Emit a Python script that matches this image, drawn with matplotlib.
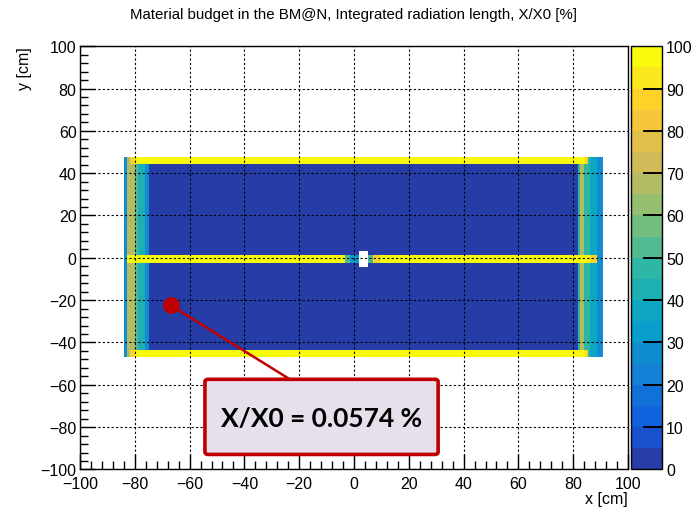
import numpy as np
import matplotlib.pyplot as plt
from matplotlib.colors import ListedColormap, BoundaryNorm
from matplotlib.ticker import MultipleLocator
from matplotlib.patches import FancyBboxPatch

plt.rcParams['font.family'] = ['Liberation Sans', 'DejaVu Sans']

# ROOT kBird palette stops
bird_r = [0.2082, 0.0592, 0.0780, 0.0232, 0.1802, 0.5301, 0.8186, 0.9956, 0.9764]
bird_g = [0.1664, 0.3599, 0.5041, 0.6419, 0.7178, 0.7492, 0.7328, 0.7862, 0.9832]
bird_b = [0.5293, 0.8684, 0.8385, 0.7914, 0.6425, 0.4662, 0.3499, 0.1968, 0.0539]

# Material map, X/X0 in %
# column profile over the full detector height
col_edges = [-84.0, -82.7, -79.9, -78.8, -76.3, -74.7, 81.8, 82.5, 84.0, 86.0, 88.7, 91.0]
col_vals = [28, 68, 52, 42, 25, 2, 45, 68, 48, 38, 25]
det_y = (-47.0, 47.0)
# top and bottom frame bands
band_edges = [-81.8, -80.0, 84.3, 85.4]
band_vals = [85, 99, 85]
band_top = (44.0, 47.0)
band_bot = (-47.0, -44.0)
# central horizontal strip
strip_edges = [-83.0, -3.3, -1.5, 1.8, 5.1, 6.9, 9.5, 86.0, 88.7]
strip_vals = [99, 50, 30, 99, 50, 85, 99, 85]
strip_y = (-3.0, 0.9)
# beam hole (empty)
hole_x = (1.8, 5.1)
hole_y = (-4.6, 2.7)

cbar_ticks = np.arange(0, 101, 10)
mean_value = "X/X0 = 0.0574 %"
title = "Material budget in the BM@N, Integrated radiation length, X/X0 [%]"

# histogram grid
step = 0.25
xc = np.arange(-100 + step / 2, 100, step)
yc = np.arange(-100 + step / 2, 100, step)
X, Y = np.meshgrid(xc, yc)
Z = np.full(X.shape, np.nan)


def fill(edges, vals, y0, y1):
    for i, v in enumerate(vals):
        m = (X >= edges[i]) & (X < edges[i + 1]) & (Y >= y0) & (Y < y1)
        Z[m] = v


fill(col_edges, col_vals, *det_y)
fill(band_edges, band_vals, *band_top)
fill(band_edges, band_vals, *band_bot)
fill(strip_edges, strip_vals, *strip_y)
Z[(X >= hole_x[0]) & (X < hole_x[1]) & (Y >= hole_y[0]) & (Y < hole_y[1])] = np.nan

# 20 contour colours as ROOT picks them
n_levels = 20
pos = np.floor((np.arange(n_levels) + 0.99) * 255 / n_levels) / 254
stops = np.linspace(0, 1, 9)
colors = np.column_stack([np.interp(pos, stops, c) for c in (bird_r, bird_g, bird_b)])
cmap = ListedColormap(colors)
levels = np.linspace(0, 100, n_levels + 1)
norm = BoundaryNorm(levels, cmap.N)

fig = plt.figure(figsize=(6.96, 5.10), dpi=100)
ax = fig.add_axes([80 / 696, 0.0775, 548 / 696, 0.830])
im = ax.imshow(Z, origin='lower', extent=(-100, 100, -100, 100), aspect='auto',
               interpolation='nearest', cmap=cmap, norm=norm, zorder=0)

ax.set_xlim(-100, 100)
ax.set_ylim(-100, 100)
ax.set_xticks(np.arange(-100, 101, 20))
ax.set_yticks(np.arange(-100, 101, 20))
ax.xaxis.set_minor_locator(MultipleLocator(4))
ax.yaxis.set_minor_locator(MultipleLocator(4))
ax.tick_params(which='major', direction='in', length=11, width=1, labelsize=11.5)
ax.tick_params(which='minor', direction='in', length=5.5, width=1)
ax.tick_params(axis='x', pad=5)
ax.tick_params(axis='y', pad=2.5)
ax.grid(True, which='major', color='k', linestyle=(0, (2, 2)), linewidth=0.8)
ax.set_axisbelow(False)
for s in ax.spines.values():
    s.set_linewidth(1)

fig.text(0.508, 0.971, title, ha='center', va='center', fontsize=10.8)
fig.text(628 / 696, 1 - 500 / 510, "x [cm]", ha='right', va='center', fontsize=11.5)
fig.text(24 / 696, 1 - 47 / 510, "y [cm]", ha='center', va='top', rotation=90, fontsize=11.5)

# colour scale
cax = fig.add_axes([631 / 696, 0.0775, 31 / 696, 0.830])
sm = plt.cm.ScalarMappable(norm=norm, cmap=cmap)
cb = fig.colorbar(sm, cax=cax, ticks=cbar_ticks)
cb.ax.tick_params(length=0, labelsize=11.5, pad=3)
cb.ax.minorticks_off()
cb.outline.set_linewidth(1)
# ROOT-style tick marks drawn inside the colour bar
for t in cbar_ticks[1:-1]:
    cax.plot([0.42, 1.0], [t / 100, t / 100], transform=cax.transAxes,
             color='k', lw=1.4, zorder=20, clip_on=False)

# annotation: marker, leader line, text box
red = '#c00000'
dot_xy = (-66.8, -22.5)
line_end = (-23.4, -57.4)
box_x = (-54.4, 30.7)
box_y = (-92.9, -57.4)
ax.plot([dot_xy[0], line_end[0]], [dot_xy[1], line_end[1]], color=red, lw=1.8, zorder=5)
ax.plot([dot_xy[0]], [dot_xy[1]], 'o', color=red, ms=11, zorder=6)
box = FancyBboxPatch((box_x[0], box_y[0]), box_x[1] - box_x[0], box_y[1] - box_y[0],
                     boxstyle='round,pad=0,rounding_size=1.2', facecolor='#e6e0ec',
                     edgecolor=red, linewidth=2.6, zorder=7)
ax.add_patch(box)
ax.text((box_x[0] + box_x[1]) / 2, (box_y[0] + box_y[1]) / 2 - 0.5, mean_value,
        ha='center', va='center', fontsize=19, fontweight='bold',
        family=['Lato', 'DejaVu Sans'], zorder=8)

fig.savefig('out.png', dpi=100)
